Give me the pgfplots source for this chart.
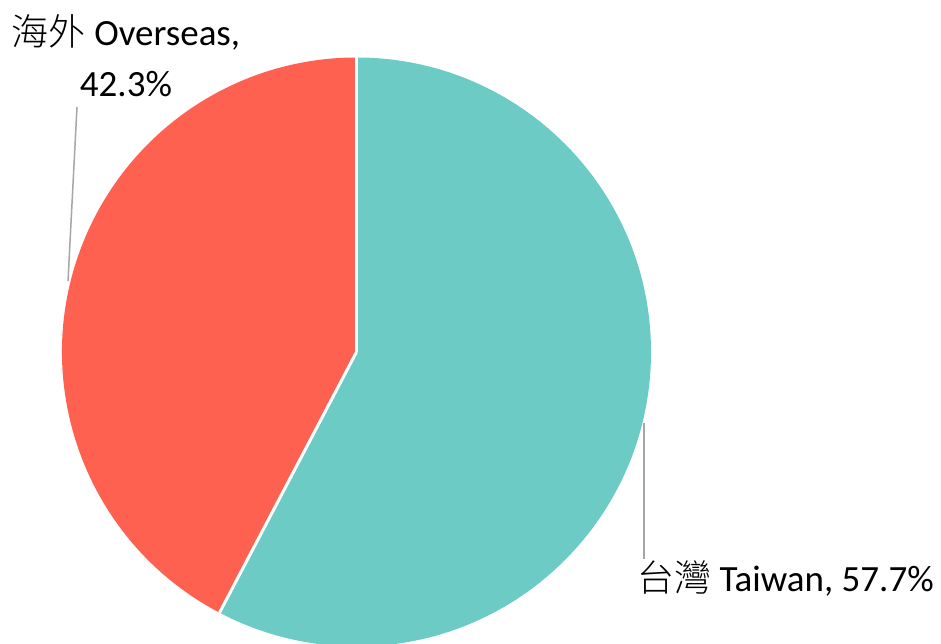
\documentclass[border=0pt]{standalone}
\usepackage{pgfplots}
\pgfplotsset{compat=1.18}
\usepackage{fontspec}
\setmainfont{Carlito}
\newfontfamily\cjk{Noto Sans CJK TC Light}
\definecolor{teal}{HTML}{6CCBC4}
\definecolor{coral}{HTML}{FF6150}
\definecolor{leader}{HTML}{A6A6A6}
\begin{document}
\begin{tikzpicture}
% data (percent)
\def\taiwan{57.7}
\def\overseas{42.3}
\pgfmathsetmacro{\angA}{90-\taiwan*3.6}
\pgfmathsetmacro{\angB}{\angA-\overseas*3.6}
\begin{axis}[x=1pt,y=1pt,xmin=0,xmax=941,ymin=0,ymax=644,
  hide axis,scale only axis,clip=false]
  \def\cx{356.5}\def\cy{292}\def\r{294.5pt}
  \fill[teal] (axis cs:\cx,\cy) -- ++(90:\r) arc[start angle=90,end angle=\angA,radius=\r] -- cycle;
  \fill[coral] (axis cs:\cx,\cy) -- ++(\angA:\r) arc[start angle=\angA,end angle=\angB,radius=\r] -- cycle;
  \draw[white,line width=3pt] (axis cs:\cx,\cy) -- ++(90:\r);
  \draw[white,line width=3pt] (axis cs:\cx,\cy) -- ++(\angA:\r);
  \draw[leader,line width=1.5pt] (axis cs:77,537) -- (axis cs:68,363);
  \draw[leader,line width=1.5pt] (axis cs:644,221) -- (axis cs:644,69);
  \node[anchor=base,inner sep=0pt,font=\fontsize{37}{43}\selectfont] at (axis cs:126,598) {{\cjk 海外} Overseas,};
  \node[anchor=base,inner sep=0pt,font=\fontsize{37}{43}\selectfont] at (axis cs:126,547) {42.3\%};
  \node[anchor=base west,inner sep=0pt,font=\fontsize{37}{43}\selectfont,fill=white,inner ysep=2pt] at (axis cs:637,52) {{\cjk 台灣} Taiwan, 57.7\%};
\end{axis}
\pgfresetboundingbox
\useasboundingbox (0,0) rectangle (941pt,644pt);
\end{tikzpicture}
\end{document}
